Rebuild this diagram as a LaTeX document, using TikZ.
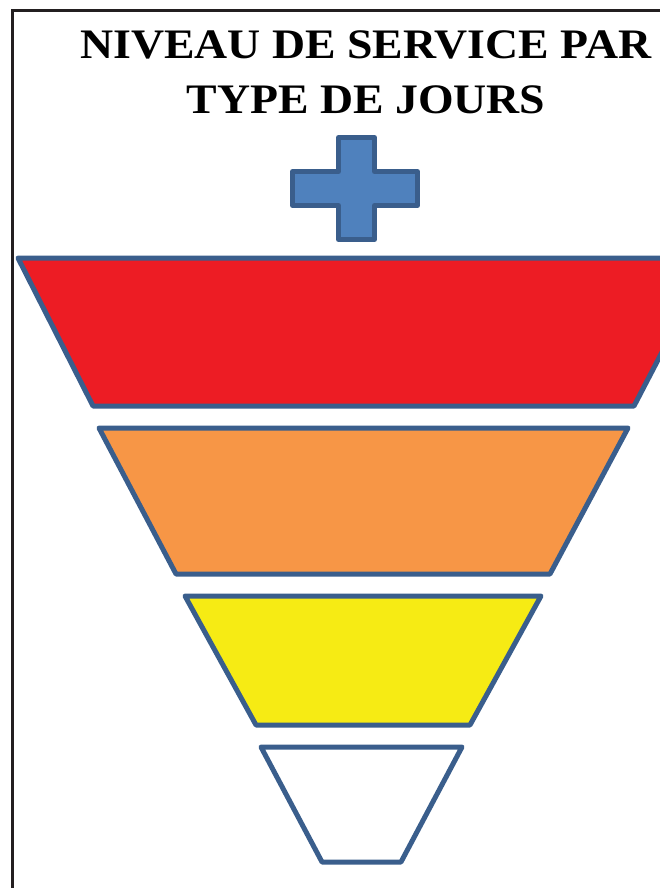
\documentclass[tikz,border=0pt]{standalone}
\usepackage{fontspec}
\setmainfont[FakeStretch=1.09]{Liberation Serif}
\usetikzlibrary{positioning}
\definecolor{edgeblue}{RGB}{58,94,140}
\definecolor{crossblue}{RGB}{79,129,189}
\definecolor{framegray}{RGB}{35,31,32}
\definecolor{levelred}{RGB}{237,28,36}
\definecolor{levelorange}{RGB}{247,150,70}
\definecolor{levelyellow}{RGB}{246,235,20}

\begin{document}
\begin{tikzpicture}[
  x=1pt,y=-1pt,
  frame/.style={draw=framegray,line width=3pt},
  level/.style={draw=edgeblue,line width=5pt,line join=round},
  title/.style={font=\bfseries\fontsize{42}{55}\selectfont,align=center,inner sep=0pt}
]
\path[use as bounding box,clip] (0,0) rectangle (660,888);
\draw[frame] (12,900) -- (12,11) -- (670,11);
\node[title,anchor=north] (heading) at (366,30) {NIVEAU DE SERVICE PAR\\TYPE DE JOURS};
% croix
\draw[level,fill=crossblue] (338.5,137.5) -- (374.5,137.5) -- (374.5,171.5) -- (417.5,171.5)
  -- (417.5,205.5) -- (374.5,205.5) -- (374.5,239.5) -- (338.5,239.5) -- (338.5,205.5)
  -- (292.5,205.5) -- (292.5,171.5) -- (338.5,171.5) -- cycle;
% niveaux
\draw[level,fill=levelred] (18,258) -- (711,258) -- (634,406) -- (93,406) -- cycle;
\draw[level,fill=levelorange] (99,428) -- (628,428) -- (550,574) -- (176,574) -- cycle;
\draw[level,fill=levelyellow] (185,596) -- (541,596) -- (470,725) -- (256,725) -- cycle;
\draw[level,fill=white] (261,747) -- (462,747) -- (401,862) -- (322,862) -- cycle;
\end{tikzpicture}
\end{document}
